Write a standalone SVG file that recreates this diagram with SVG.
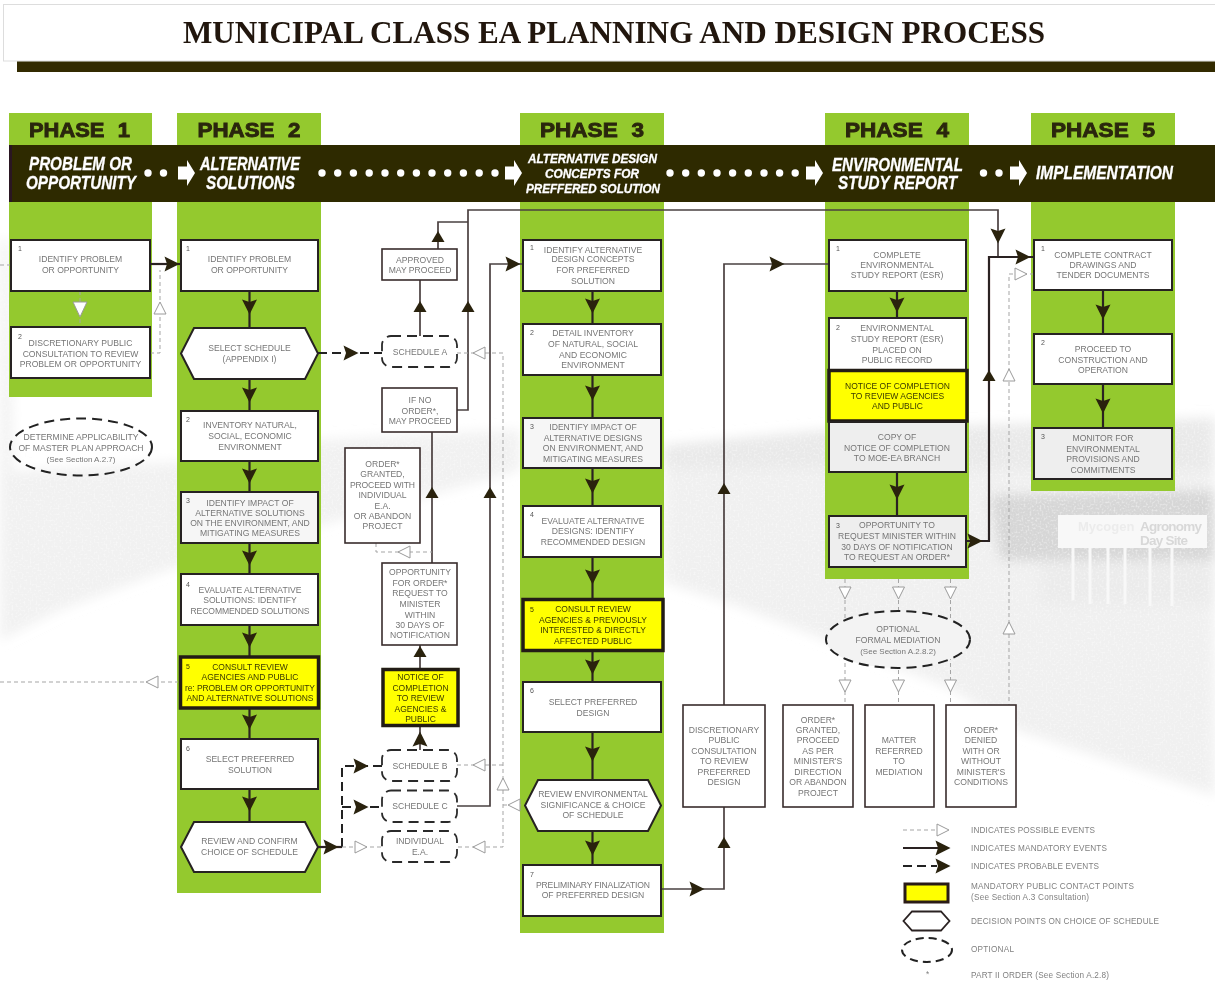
<svg xmlns="http://www.w3.org/2000/svg" width="1215" height="983" viewBox="0 0 1215 983">
<style>
text{font-family:"Liberation Sans",Arial,sans-serif}
.t{font-size:8.6px;fill:#767676;text-anchor:middle}
.y{font-size:8.5px;fill:#3a3a00;text-anchor:middle}
.n{font-size:7px;fill:#555}
.l{font-size:8.2px;fill:#808080}
.ph{font-size:21px;font-weight:bold;fill:#2a280c;stroke:#2a280c;stroke-width:.9;text-anchor:middle;word-spacing:7px}
.bn{font-weight:bold;font-style:italic;fill:#fff;stroke:#fff;stroke-width:.3;text-anchor:middle}
.g{fill:#94c92d}
.b{fill:#fff;stroke:#262222;stroke-width:2}
.b2{fill:#f6f6f6;stroke:#262222;stroke-width:2}
.b3{fill:#eeeeee;stroke:#262222;stroke-width:2}
.m{fill:#fff;stroke:#3a2c2c;stroke-width:1.6}
.k{fill:#ff0;stroke:#241c14;stroke-width:3.5}
.hx{fill:#fff;stroke:#262222;stroke-width:2}
.da{fill:#fff;stroke:#2b2b2b;stroke-width:1.8;stroke-dasharray:10 6}
.el{fill:none;stroke:#222;stroke-width:2;stroke-dasharray:10 6}
.s{fill:none;stroke:#2a2420;stroke-width:2.2}
.s2{fill:none;stroke:#4a4040;stroke-width:1.7}
.p{fill:none;stroke:#222;stroke-width:2;stroke-dasharray:9 5}
.q{fill:none;stroke:#a5a5a5;stroke-width:1;stroke-dasharray:4 3}
.w{fill:#fff}
</style>
<defs>
<filter id="soft" filterUnits="userSpaceOnUse" x="0" y="0" width="1215" height="983"><feGaussianBlur stdDeviation="0.4"/></filter>
<filter id="grain" x="-5%" y="-5%" width="110%" height="110%">
<feGaussianBlur in="SourceGraphic" stdDeviation="6" result="bl"/>
<feTurbulence type="fractalNoise" baseFrequency="0.5" numOctaves="2" seed="4" result="nz"/>
<feColorMatrix in="nz" type="matrix" values="0 0 0 0 1 0 0 0 0 1 0 0 0 0 1 1.2 0 0 0 -0.55" result="sp"/>
<feComposite in="sp" in2="bl" operator="in" result="spk"/>
<feMerge><feMergeNode in="bl"/><feMergeNode in="spk"/></feMerge>
</filter>
<path id="h" d="M-7.5,-7.5 L7.5,0 L-7.5,7.5 L-5,0 Z" fill="#2a2410"/>
<path id="u" d="M-5,-6.5 L6,0 L-5,6.5 Z" fill="#2a2410"/>
<path id="o" d="M-6,-6 L6,0 L-6,6 Z" fill="#fff" stroke="#9a9a9a" stroke-width="1"/>
<path id="wa" d="M0,-6.5 H9 V-13 L17,0 L9,13 V6.5 H0 Z" fill="#fff"/>
</defs>
<rect width="1215" height="983" fill="#fff"/>
<g filter="url(#soft)">
<g id="photo" filter="url(#grain)">
<path d="M0,240 H10 L14,560 H0 Z" fill="#f2f2f2"/>
<path d="M0,472 L180,462 L321,440 L520,430 L520,470 L321,525 L180,565 L60,610 L0,640 Z" fill="#f1f1f1"/>
<path d="M664,445 L825,430 L1215,418 L1215,795 L1017,730 L948,687 L741,607 L664,582 Z" fill="#f0f0f0"/>
<path d="M664,445 L825,430 L1215,418 L1215,470 L664,468 Z" fill="#e9e9e9"/>
<path d="M990,495 L1215,490 L1215,565 L1000,560 Z" fill="#d6d6d6"/>
<path d="M1040,560 H1215 V605 H1040 Z" fill="#ebebeb"/>
</g>
<g id="sign">
<rect x="1058" y="515" width="149" height="33" fill="#f8f8f8"/>
<path d="M1073,548 V600 M1090,548 V604 M1108,548 V604 M1125,548 V604 M1150,548 V606 M1172,548 V606" stroke="#f8f8f8" stroke-width="3"/>
<text x="1078" y="531" font-size="13" font-weight="bold" fill="#ececec">Mycogen</text>
<text x="1140" y="531" font-size="13.5" font-weight="bold" fill="#d8d8d8" textLength="62">Agronomy</text>
<text x="1140" y="545" font-size="13.5" font-weight="bold" fill="#d8d8d8" textLength="48">Day Site</text>
</g>

<g id="title">
<rect x="3.5" y="4.5" width="1212" height="56.5" fill="#fff" stroke="#ddd" stroke-width="1"/>
<rect x="17" y="61.5" width="1198" height="10.5" fill="#332c00"/>
<text x="183" y="43" font-size="31" font-weight="bold" fill="#201810" style="font-family:'Liberation Serif','Times New Roman',serif" textLength="862" lengthAdjust="spacingAndGlyphs">MUNICIPAL CLASS EA PLANNING AND DESIGN PROCESS</text>
</g>

<g id="columns">
<rect class="g" x="9" y="113" width="143" height="284"/>
<rect class="g" x="177" y="113" width="144" height="780"/>
<rect class="g" x="520" y="113" width="144" height="820"/>
<rect class="g" x="825" y="113" width="144" height="466"/>
<rect class="g" x="1031" y="113" width="144" height="378"/>
</g>

<g id="band">
<rect x="9" y="145" width="1206" height="57" fill="#2e2a06"/>
<rect x="9" y="145" width="3" height="57" fill="#2a1224"/>
<text class="ph" x="79.5" y="136.5" textLength="101" lengthAdjust="spacingAndGlyphs">PHASE 1</text>
<text class="ph" x="249" y="136.5" textLength="103" lengthAdjust="spacingAndGlyphs">PHASE 2</text>
<text class="ph" x="592" y="136.5" textLength="104" lengthAdjust="spacingAndGlyphs">PHASE 3</text>
<text class="ph" x="897" y="136.5" textLength="104" lengthAdjust="spacingAndGlyphs">PHASE 4</text>
<text class="ph" x="1103" y="136.5" textLength="104" lengthAdjust="spacingAndGlyphs">PHASE 5</text>
<text class="bn" font-size="17.5" x="80.5" y="169.5" textLength="103" lengthAdjust="spacingAndGlyphs">PROBLEM OR</text>
<text class="bn" font-size="17.5" x="81" y="188.5" textLength="110" lengthAdjust="spacingAndGlyphs">OPPORTUNITY</text>
<text class="bn" font-size="17.5" x="250" y="169.5" textLength="100" lengthAdjust="spacingAndGlyphs">ALTERNATIVE</text>
<text class="bn" font-size="17.5" x="250.5" y="188.5" textLength="89" lengthAdjust="spacingAndGlyphs">SOLUTIONS</text>
<text class="bn" font-size="12.5" x="592.5" y="162.5" textLength="129" lengthAdjust="spacingAndGlyphs">ALTERNATIVE DESIGN</text>
<text class="bn" font-size="12.5" x="592" y="177.5" textLength="94" lengthAdjust="spacingAndGlyphs">CONCEPTS FOR</text>
<text class="bn" font-size="12.5" x="593" y="192.5" textLength="134" lengthAdjust="spacingAndGlyphs">PREFFERED SOLUTION</text>
<text class="bn" font-size="17.5" x="897.5" y="170.5" textLength="131" lengthAdjust="spacingAndGlyphs">ENVIRONMENTAL</text>
<text class="bn" font-size="17.5" x="897.5" y="189" textLength="119" lengthAdjust="spacingAndGlyphs">STUDY REPORT</text>
<text class="bn" font-size="17.5" x="1104.5" y="179" textLength="137" lengthAdjust="spacingAndGlyphs">IMPLEMENTATION</text>
<g class="w">
<circle cx="148" cy="173" r="3.7"/><circle cx="163.5" cy="173" r="3.7"/>
<circle cx="322" cy="173" r="3.7"/><circle cx="337.7" cy="173" r="3.7"/><circle cx="353.4" cy="173" r="3.7"/><circle cx="369.2" cy="173" r="3.7"/><circle cx="385" cy="173" r="3.7"/><circle cx="400.7" cy="173" r="3.7"/><circle cx="416.4" cy="173" r="3.7"/><circle cx="432" cy="173" r="3.7"/><circle cx="447.7" cy="173" r="3.7"/><circle cx="463.4" cy="173" r="3.7"/><circle cx="479.2" cy="173" r="3.7"/><circle cx="495" cy="173" r="3.7"/>
<circle cx="670" cy="173" r="3.7"/><circle cx="685.7" cy="173" r="3.7"/><circle cx="701.3" cy="173" r="3.7"/><circle cx="717" cy="173" r="3.7"/><circle cx="732.6" cy="173" r="3.7"/><circle cx="748.3" cy="173" r="3.7"/><circle cx="764" cy="173" r="3.7"/><circle cx="779.6" cy="173" r="3.7"/><circle cx="795.2" cy="173" r="3.7"/>
<circle cx="983.5" cy="173" r="3.7"/><circle cx="999" cy="173" r="3.7"/>
</g>
<use href="#wa" x="178" y="173"/><use href="#wa" x="505" y="173"/><use href="#wa" x="806" y="173"/><use href="#wa" x="1010" y="173"/>
</g>

<g id="connectors">
<path class="s" d="M150,264 H181"/>
<path class="q" d="M80,291 V327"/>
<path class="q" d="M150,353 H160 V270"/>
<path class="s" d="M249.5,291 V328 M249.5,379 V411 M249.5,461 V492 M249.5,543 V574 M249.5,625 V657 M249.5,708 V739 M249.5,789 V822"/>
<path class="p" d="M318,353 H382"/>
<path class="s2" d="M420,336 V280 M438,249 V222 H468 M457,410 H468 V210 H998 V257 M432,563 V432 M420,669 V645 M420,750 V726 M457,806 H490 V264 H523"/>
<path class="s" d="M592.5,291 V324 M592.5,375 V418 M592.5,468 V506 M592.5,557 V599 M592.5,651 V682 M592.5,732 V780 M592.5,831 V865"/>
<path class="q" d="M376,543 V552 H432"/>
<path class="q" d="M457,353 H503 V847 H457 M457,765 H503 M503,805 H525"/>
<path class="q" d="M0,682 H178"/>
<path class="q" d="M0,265 H11"/>
<path class="s" d="M318,847 H342"/>
<path class="p" d="M342,847 V766 H382 M342,807 H382"/>
<path class="q" d="M342,847 H382"/>
<path class="s2" d="M661,889 H724 V264 H829"/>
<path class="s" d="M897,291 V318 M897,472 V516 M1103,290 V334 M1103,384 V428"/>
<path class="s" d="M967,541 H989 V257 H1034"/>
<path class="q" d="M1034,274 H1009 V705"/>
<path class="q" d="M845,579 V705 M898.5,579 V705 M950.5,579 V705"/>
<use href="#h" transform="translate(172,264)"/>
<path d="M73,302 H87 L80,317 Z" fill="#fff" stroke="#9a9a9a" stroke-width="1"/>
<use href="#o" transform="translate(160,308) rotate(-90)"/>
<use href="#h" transform="translate(249.5,307) rotate(90)"/>
<use href="#h" transform="translate(249.5,395) rotate(90)"/>
<use href="#h" transform="translate(249.5,476) rotate(90)"/>
<use href="#h" transform="translate(249.5,558) rotate(90)"/>
<use href="#h" transform="translate(249.5,640) rotate(90)"/>
<use href="#h" transform="translate(249.5,722) rotate(90)"/>
<use href="#h" transform="translate(249.5,804) rotate(90)"/>
<use href="#h" transform="translate(351,353)"/>
<use href="#u" transform="translate(420,307) rotate(-90)"/>
<use href="#u" transform="translate(438,237) rotate(-90)"/>
<use href="#u" transform="translate(468,307) rotate(-90)"/>
<use href="#u" transform="translate(432,493) rotate(-90)"/>
<use href="#u" transform="translate(490,493) rotate(-90)"/>
<use href="#h" transform="translate(513,264)"/>
<use href="#u" transform="translate(420,652) rotate(-90)"/>
<use href="#h" transform="translate(420,739) rotate(-90)"/>
<use href="#h" transform="translate(331,847)"/>
<use href="#h" transform="translate(361,766)"/>
<use href="#h" transform="translate(361,807)"/>
<use href="#o" transform="translate(361,847)"/>
<use href="#o" transform="translate(479,353) rotate(180)"/>
<use href="#o" transform="translate(479,765) rotate(180)"/>
<use href="#o" transform="translate(479,847) rotate(180)"/>
<use href="#o" transform="translate(503,784) rotate(-90)"/>
<use href="#o" transform="translate(514,805) rotate(180)"/>
<use href="#o" transform="translate(404,552) rotate(180)"/>
<use href="#o" transform="translate(152,682) rotate(180)"/>
<use href="#h" transform="translate(592.5,306) rotate(90)"/>
<use href="#h" transform="translate(592.5,393) rotate(90)"/>
<use href="#h" transform="translate(592.5,486) rotate(90)"/>
<use href="#h" transform="translate(592.5,577) rotate(90)"/>
<use href="#h" transform="translate(592.5,667) rotate(90)"/>
<use href="#h" transform="translate(592.5,754) rotate(90)"/>
<use href="#h" transform="translate(592.5,848) rotate(90)"/>
<use href="#h" transform="translate(697,889)"/>
<use href="#u" transform="translate(724,843) rotate(-90)"/>
<use href="#u" transform="translate(724,489) rotate(-90)"/>
<use href="#h" transform="translate(777,264)"/>
<use href="#h" transform="translate(897,305) rotate(90)"/>
<use href="#h" transform="translate(897,492) rotate(90)"/>
<use href="#h" transform="translate(975,541)"/>
<use href="#u" transform="translate(989,376) rotate(-90)"/>
<use href="#h" transform="translate(998,236) rotate(90)"/>
<use href="#h" transform="translate(1023,257)"/>
<use href="#o" transform="translate(1021,274)"/>
<use href="#o" transform="translate(1009,375) rotate(-90)"/>
<use href="#o" transform="translate(1009,628) rotate(-90)"/>
<use href="#h" transform="translate(1103,312) rotate(90)"/>
<use href="#h" transform="translate(1103,406) rotate(90)"/>
<use href="#o" transform="translate(845,593) rotate(90)"/>
<use href="#o" transform="translate(898.5,593) rotate(90)"/>
<use href="#o" transform="translate(950.5,593) rotate(90)"/>
<use href="#o" transform="translate(845,686) rotate(90)"/>
<use href="#o" transform="translate(898.5,686) rotate(90)"/>
<use href="#o" transform="translate(950.5,686) rotate(90)"/>
</g>

<g id="p1-1"><rect class="b" x="11" y="240" width="139" height="51"/><text class="n" x="18" y="251">1</text><text class="t" x="80.5" y="262">IDENTIFY PROBLEM</text><text class="t" x="80.5" y="273">OR OPPORTUNITY</text></g>
<g id="p1-2"><rect class="b" x="11" y="327" width="139" height="51"/><text class="n" x="18" y="339">2</text><text class="t" x="80.5" y="346">DISCRETIONARY PUBLIC</text><text class="t" x="80.5" y="356.5">CONSULTATION TO REVIEW</text><text class="t" x="80.5" y="367">PROBLEM OR OPPORTUNITY</text></g>
<g id="master-plan"><ellipse class="el" cx="81" cy="447" rx="71" ry="28.5"/><text class="t" x="81" y="440">DETERMINE APPLICABILITY</text><text class="t" x="81" y="451">OF MASTER PLAN APPROACH</text><text class="t" x="81" y="462" style="font-size:8px">(See Section A.2.7)</text></g>

<g id="p2-1"><rect class="b" x="181" y="240" width="137" height="51"/><text class="n" x="186" y="251">1</text><text class="t" x="249.5" y="262">IDENTIFY PROBLEM</text><text class="t" x="249.5" y="273">OR OPPORTUNITY</text></g>
<g id="p2-hex1"><path class="hx" d="M194,328 H305 L318,353.5 L305,379 H194 L181,353.5 Z"/><text class="t" x="249.5" y="351">SELECT SCHEDULE</text><text class="t" x="249.5" y="361.5">(APPENDIX I)</text></g>
<g id="p2-2"><rect class="b" x="181" y="411" width="137" height="50"/><text class="n" x="186" y="422">2</text><text class="t" x="250" y="428">INVENTORY NATURAL,</text><text class="t" x="250" y="439">SOCIAL, ECONOMIC</text><text class="t" x="250" y="449.5">ENVIRONMENT</text></g>
<g id="p2-3"><rect class="b2" x="181" y="492" width="137" height="51"/><text class="n" x="186" y="503">3</text><text class="t" x="250" y="506">IDENTIFY IMPACT OF</text><text class="t" x="250" y="516">ALTERNATIVE SOLUTIONS</text><text class="t" x="250" y="526">ON THE ENVIRONMENT, AND</text><text class="t" x="250" y="536">MITIGATING MEASURES</text></g>
<g id="p2-4"><rect class="b" x="181" y="574" width="137" height="51"/><text class="n" x="186" y="587">4</text><text class="t" x="250" y="593">EVALUATE ALTERNATIVE</text><text class="t" x="250" y="603">SOLUTIONS:  IDENTIFY</text><text class="t" x="250" y="614" textLength="119">RECOMMENDED SOLUTIONS</text></g>
<g id="p2-5"><rect class="k" x="180.5" y="657" width="138" height="51"/><text class="n" x="186" y="669" style="fill:#3a3a00">5</text><text class="y" x="250" y="670">CONSULT REVIEW</text><text class="y" x="250" y="680">AGENCIES AND PUBLIC</text><text class="y" x="250" y="690.5" textLength="130">re: PROBLEM OR OPPORTUNITY</text><text class="y" x="250" y="701" textLength="127">AND ALTERNATIVE SOLUTIONS</text></g>
<g id="p2-6"><rect class="b" x="181" y="739" width="137" height="50"/><text class="n" x="186" y="751">6</text><text class="t" x="250" y="762">SELECT PREFERRED</text><text class="t" x="250" y="773">SOLUTION</text></g>
<g id="p2-hex2"><path class="hx" d="M194,822 H305 L318,847 L305,872 H194 L181,847 Z"/><text class="t" x="249.5" y="844">REVIEW AND CONFIRM</text><text class="t" x="249.5" y="855">CHOICE OF SCHEDULE</text></g>

<g id="approved"><rect class="m" x="382" y="249" width="75" height="31"/><text class="t" x="420" y="263">APPROVED</text><text class="t" x="420" y="272.5">MAY PROCEED</text></g>
<g id="sched-a"><rect class="da" x="382" y="336" width="75" height="31" rx="9"/><text class="t" x="420" y="355">SCHEDULE A</text></g>
<g id="no-order"><rect class="m" x="382" y="388" width="75" height="44"/><text class="t" x="420" y="403">IF NO</text><text class="t" x="420" y="414">ORDER*,</text><text class="t" x="420" y="424">MAY PROCEED</text></g>
<g id="order-ea"><rect class="m" x="345" y="448" width="75" height="95"/><text class="t" x="382.5" y="467">ORDER*</text><text class="t" x="382.5" y="477">GRANTED,</text><text class="t" x="382.5" y="487.5" textLength="65">PROCEED WITH</text><text class="t" x="382.5" y="498">INDIVIDUAL</text><text class="t" x="382.5" y="509">E.A.</text><text class="t" x="382.5" y="519">OR ABANDON</text><text class="t" x="382.5" y="529">PROJECT</text></g>
<g id="opportunity"><rect class="m" x="382" y="563" width="75" height="82"/><text class="t" x="420" y="575">OPPORTUNITY</text><text class="t" x="420" y="586">FOR ORDER*</text><text class="t" x="420" y="596">REQUEST TO</text><text class="t" x="420" y="607">MINISTER</text><text class="t" x="420" y="618">WITHIN</text><text class="t" x="420" y="627.5">30 DAYS OF</text><text class="t" x="420" y="638">NOTIFICATION</text></g>
<g id="notice-m"><rect class="k" x="383" y="669.5" width="75" height="56"/><text class="y" x="420.5" y="680">NOTICE OF</text><text class="y" x="420.5" y="691">COMPLETION</text><text class="y" x="420.5" y="701">TO REVIEW</text><text class="y" x="420.5" y="712">AGENCIES &amp;</text><text class="y" x="420.5" y="722">PUBLIC</text></g>
<g id="sched-b"><rect class="da" x="382" y="750" width="75" height="31" rx="9"/><text class="t" x="420" y="769">SCHEDULE B</text></g>
<g id="sched-c"><rect class="da" x="382" y="790.5" width="75" height="31.5" rx="9"/><text class="t" x="420" y="809">SCHEDULE C</text></g>
<g id="indiv"><rect class="da" x="382" y="831" width="75" height="31" rx="9"/><text class="t" x="420" y="844">INDIVIDUAL</text><text class="t" x="420" y="855">E.A.</text></g>

<g id="p3-1"><rect class="b" x="523" y="240" width="138" height="51"/><text class="n" x="530" y="250">1</text><text class="t" x="593" y="253">IDENTIFY ALTERNATIVE</text><text class="t" x="593" y="262">DESIGN CONCEPTS</text><text class="t" x="593" y="273">FOR PREFERRED</text><text class="t" x="593" y="284">SOLUTION</text></g>
<g id="p3-2"><rect class="b" x="523" y="324" width="138" height="51"/><text class="n" x="530" y="335">2</text><text class="t" x="593" y="336">DETAIL INVENTORY</text><text class="t" x="593" y="347">OF NATURAL, SOCIAL</text><text class="t" x="593" y="358">AND ECONOMIC</text><text class="t" x="593" y="368">ENVIRONMENT</text></g>
<g id="p3-3"><rect class="b2" x="523" y="418" width="138" height="50"/><text class="n" x="530" y="429">3</text><text class="t" x="593" y="430">IDENTIFY IMPACT OF</text><text class="t" x="593" y="441">ALTERNATIVE DESIGNS</text><text class="t" x="593" y="451">ON ENVIRONMENT, AND</text><text class="t" x="593" y="462">MITIGATING MEASURES</text></g>
<g id="p3-4"><rect class="b" x="523" y="506" width="138" height="51"/><text class="n" x="530" y="517">4</text><text class="t" x="593" y="524">EVALUATE ALTERNATIVE</text><text class="t" x="593" y="534">DESIGNS:  IDENTIFY</text><text class="t" x="593" y="545">RECOMMENDED DESIGN</text></g>
<g id="p3-5"><rect class="k" x="523" y="599.5" width="140" height="51"/><text class="n" x="530" y="612" style="fill:#3a3a00">5</text><text class="y" x="593" y="612">CONSULT REVIEW</text><text class="y" x="593" y="623">AGENCIES &amp; PREVIOUSLY</text><text class="y" x="593" y="633">INTERESTED &amp; DIRECTLY</text><text class="y" x="593" y="644">AFFECTED PUBLIC</text></g>
<g id="p3-6"><rect class="b" x="523" y="682" width="138" height="50"/><text class="n" x="530" y="693">6</text><text class="t" x="593" y="705">SELECT PREFERRED</text><text class="t" x="593" y="716">DESIGN</text></g>
<g id="p3-hex"><path class="hx" d="M538,780 H648 L661,805.5 L648,831 H538 L525,805.5 Z"/><text class="t" x="593" y="797">REVIEW ENVIRONMENTAL</text><text class="t" x="593" y="808">SIGNIFICANCE &amp; CHOICE</text><text class="t" x="593" y="818">OF SCHEDULE</text></g>
<g id="p3-7"><rect class="b" x="523" y="865" width="138" height="51"/><text class="n" x="530" y="877">7</text><text class="t" x="593" y="888" textLength="114">PRELIMINARY FINALIZATION</text><text class="t" x="593" y="898">OF PREFERRED DESIGN</text></g>

<g id="discretionary"><rect class="m" x="683" y="705" width="82" height="102"/><text class="t" x="724" y="733">DISCRETIONARY</text><text class="t" x="724" y="743">PUBLIC</text><text class="t" x="724" y="754">CONSULTATION</text><text class="t" x="724" y="764">TO REVIEW</text><text class="t" x="724" y="775">PREFERRED</text><text class="t" x="724" y="785">DESIGN</text></g>

<g id="p4-1"><rect class="b" x="829" y="240" width="137" height="51"/><text class="n" x="836" y="251">1</text><text class="t" x="897" y="258">COMPLETE</text><text class="t" x="897" y="268">ENVIRONMENTAL</text><text class="t" x="897" y="278">STUDY REPORT (ESR)</text></g>
<g id="p4-2"><rect class="b" x="829" y="318" width="137" height="52"/><text class="n" x="836" y="330">2</text><text class="t" x="897" y="331">ENVIRONMENTAL</text><text class="t" x="897" y="342">STUDY REPORT (ESR)</text><text class="t" x="897" y="353">PLACED ON</text><text class="t" x="897" y="363">PUBLIC RECORD</text></g>
<g id="p4-notice"><rect class="k" x="829" y="370.5" width="138" height="50.5"/><text class="y" x="897.5" y="389">NOTICE OF COMPLETION</text><text class="y" x="897.5" y="399">TO REVIEW AGENCIES</text><text class="y" x="897.5" y="409">AND PUBLIC</text></g>
<g id="p4-copy"><rect class="b3" x="829" y="422" width="137" height="50"/><text class="t" x="897" y="440">COPY OF</text><text class="t" x="897" y="451">NOTICE OF COMPLETION</text><text class="t" x="897" y="461">TO MOE-EA BRANCH</text></g>
<g id="p4-3"><rect class="b3" x="829" y="516" width="137" height="51"/><text class="n" x="836" y="528">3</text><text class="t" x="897" y="528">OPPORTUNITY TO</text><text class="t" x="897" y="539">REQUEST MINISTER WITHIN</text><text class="t" x="897" y="550">30 DAYS OF NOTIFICATION</text><text class="t" x="897" y="560">TO REQUEST AN ORDER*</text></g>
<g id="mediation"><ellipse cx="898" cy="639.5" rx="72" ry="28.5" fill="#f3f3f3" stroke="#222" stroke-width="2" stroke-dasharray="10 6"/><text class="t" x="898" y="632">OPTIONAL</text><text class="t" x="898" y="643">FORMAL MEDIATION</text><text class="t" x="898" y="654" style="font-size:8px">(See Section A.2.8.2)</text></g>
<g id="order-granted"><rect class="m" x="783" y="705" width="70" height="102"/><text class="t" x="818" y="723">ORDER*</text><text class="t" x="818" y="733">GRANTED,</text><text class="t" x="818" y="743">PROCEED</text><text class="t" x="818" y="754">AS PER</text><text class="t" x="818" y="764">MINISTER'S</text><text class="t" x="818" y="775">DIRECTION</text><text class="t" x="818" y="785">OR ABANDON</text><text class="t" x="818" y="796">PROJECT</text></g>
<g id="matter"><rect class="m" x="865" y="705" width="69" height="102"/><text class="t" x="899" y="743">MATTER</text><text class="t" x="899" y="754">REFERRED</text><text class="t" x="899" y="764">TO</text><text class="t" x="899" y="775">MEDIATION</text></g>
<g id="order-denied"><rect class="m" x="946" y="705" width="70" height="102"/><text class="t" x="981" y="733">ORDER*</text><text class="t" x="981" y="743">DENIED</text><text class="t" x="981" y="754">WITH OR</text><text class="t" x="981" y="764">WITHOUT</text><text class="t" x="981" y="775">MINISTER'S</text><text class="t" x="981" y="785">CONDITIONS</text></g>

<g id="p5-1"><rect class="b" x="1034" y="240" width="138" height="50"/><text class="n" x="1041" y="251">1</text><text class="t" x="1103" y="258">COMPLETE CONTRACT</text><text class="t" x="1103" y="268">DRAWINGS AND</text><text class="t" x="1103" y="278">TENDER DOCUMENTS</text></g>
<g id="p5-2"><rect class="b" x="1034" y="334" width="138" height="50"/><text class="n" x="1041" y="345">2</text><text class="t" x="1103" y="352">PROCEED TO</text><text class="t" x="1103" y="363">CONSTRUCTION AND</text><text class="t" x="1103" y="373">OPERATION</text></g>
<g id="p5-3"><rect class="b3" x="1034" y="428" width="138" height="51"/><text class="n" x="1041" y="439">3</text><text class="t" x="1103" y="441">MONITOR FOR</text><text class="t" x="1103" y="452">ENVIRONMENTAL</text><text class="t" x="1103" y="462">PROVISIONS AND</text><text class="t" x="1103" y="473">COMMITMENTS</text></g>

<g id="legend">
<path class="q" d="M903,830 H937"/><use href="#o" transform="translate(943,830)"/>
<path class="s" d="M903,848 H938"/><use href="#h" transform="translate(943,848)"/>
<path class="p" d="M903,866 H937"/><use href="#h" transform="translate(943,866)"/>
<rect x="905" y="884" width="43" height="18" fill="#ff0" stroke="#2c1c14" stroke-width="3"/>
<path d="M912,911.5 H941 L949.5,921 L941,930.5 H912 L903.5,921 Z" fill="#fff" stroke="#2a2222" stroke-width="1.8"/>
<ellipse class="el" cx="927" cy="950" rx="25" ry="12" style="stroke-dasharray:8 5"/>
<text class="l" x="926" y="977">*</text>
<text class="l" x="971" y="833" textLength="124">INDICATES POSSIBLE EVENTS</text>
<text class="l" x="971" y="851" textLength="136">INDICATES MANDATORY EVENTS</text>
<text class="l" x="971" y="869" textLength="128">INDICATES PROBABLE EVENTS</text>
<text class="l" x="971" y="889" textLength="163">MANDATORY PUBLIC CONTACT POINTS</text>
<text class="l" x="971" y="899.5" textLength="118">(See Section A.3 Consultation)</text>
<text class="l" x="971" y="924" textLength="188">DECISION POINTS ON CHOICE OF SCHEDULE</text>
<text class="l" x="971" y="952" textLength="43">OPTIONAL</text>
<text class="l" x="971" y="978" textLength="138">PART II ORDER (See Section A.2.8)</text>
</g>
</g>
</svg>
